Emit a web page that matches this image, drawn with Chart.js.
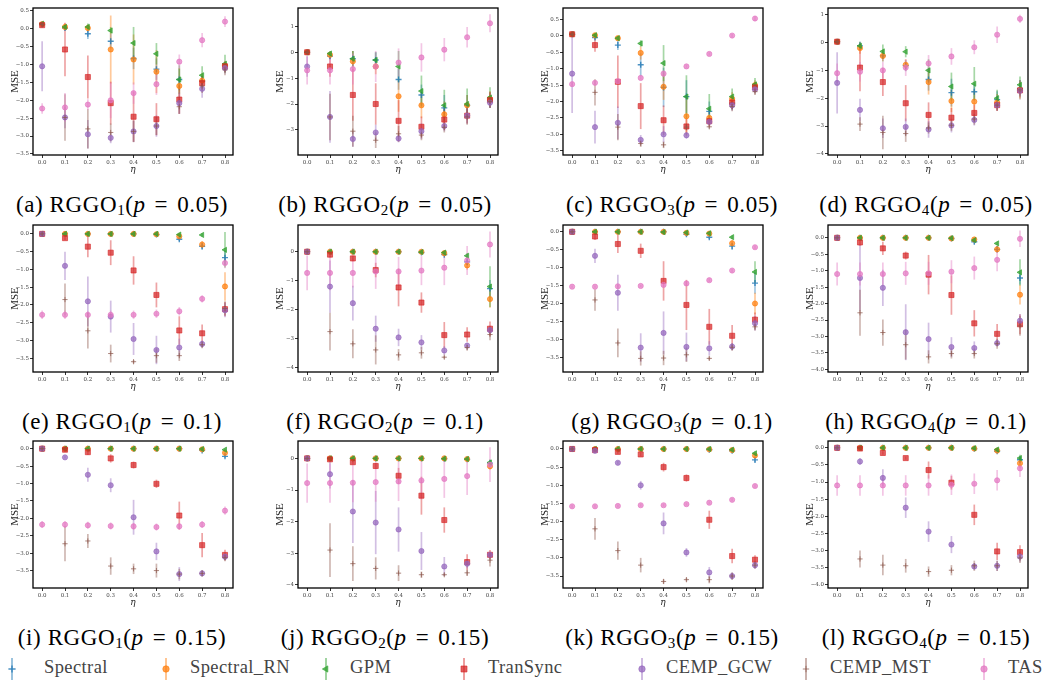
<!DOCTYPE html>
<html>
<head>
<meta charset="utf-8">
<script src="https://cdn.jsdelivr.net/npm/chart.js@4.4.1/dist/chart.umd.min.js"></script>
<style>
  body { margin: 0; background: #fff; width: 1058px; height: 684px; overflow: hidden; position: relative; }
  .panel { position: absolute; width: 265px; height: 175px; }
  .caption { position: absolute; width: 300px; text-align: center; font-family: "Liberation Serif", "DejaVu Serif", serif; font-size: 23px; letter-spacing: 0.6px; color: #000; white-space: nowrap; }
  .caption sub { font-size: 15px; vertical-align: -3px; line-height: 0; }
  .caption .eq { padding: 0 9px; }
  #legend { position: absolute; left: 0; top: 656px; width: 1058px; height: 26px; }
  .glyph { position: absolute; top: 0; }
  .name { position: absolute; top: 1px; font-family: "Liberation Serif", "DejaVu Serif", serif; font-size: 18.5px; letter-spacing: 0.4px; color: #444; white-space: nowrap; }
</style>
</head>
<body>
<div id="legend"></div>
<script>
// eta values on the x axis
var etas = [0.0, 0.1, 0.2, 0.3, 0.4, 0.5, 0.6, 0.7, 0.8];
var methods = ["Spectral", "Spectral_RN", "GPM", "TranSync", "CEMP_GCW", "CEMP_MST", "TAS"];
var colors = ["31,119,180", "255,127,14", "44,160,44", "214,39,40", "148,103,189", "140,86,75", "227,119,194"];

// mean log MSE per method (rows follow `methods`), one block per sub-figure
var mseA = [
  [0.12, 0.02, -0.14, -0.35, -0.83, -1.13, -1.42, -1.47, -1.05],
  [0.13, 0.05, 0.02, -0.58, -0.86, -1.2, -1.6, -1.45, -1.03],
  [0.14, 0.05, 0.05, -0.05, -0.4, -0.7, -1.42, -1.3, -0.98],
  [0.1, -0.58, -1.35, -2.08, -2.46, -2.53, -1.98, -1.52, -1.05],
  [-1.05, -2.48, -2.95, -3.05, -2.87, -2.72, -2.08, -1.68, -1.1],
  [0.12, -2.48, -2.8, -2.9, -2.87, -2.72, -2.18, -1.6, -1.15],
  [-2.23, -2.2, -2.12, -2.0, -1.8, -1.55, -0.92, -0.32, 0.2]
];
var errA = [
  [0.05, 0.05, 0.15, 0.2, 0.3, 0.3, 0.3, 0.15, 0.1],
  [0.05, 0.1, 0.1, 0.95, 0.7, 0.6, 0.5, 0.2, 0.1],
  [0.05, 0.05, 0.1, 0.1, 0.45, 0.3, 0.4, 0.25, 0.25],
  [0.05, 0.75, 0.6, 0.6, 0.7, 0.45, 0.4, 0.2, 0.15],
  [0.7, 0.3, 0.4, 0.15, 0.3, 0.3, 0.3, 0.25, 0.15],
  [0.05, 0.65, 0.55, 0.25, 0.3, 0.25, 0.2, 0.2, 0.15],
  [0.15, 0.4, 0.15, 0.5, 0.3, 0.3, 0.2, 0.2, 0.15]
];
var mseB = [
  [0, -0.15, -0.25, -0.3, -1.05, -1.65, -2.15, -2.05, -1.85],
  [0, -0.1, -0.35, -0.55, -1.7, -2.05, -2.4, -2.05, -1.8],
  [0, -0.05, -0.25, -0.3, -0.55, -1.5, -2.05, -2.0, -1.75],
  [0, -0.55, -1.65, -2.0, -2.65, -2.88, -2.6, -2.45, -1.85],
  [-0.55, -2.5, -3.35, -3.1, -3.33, -3.05, -2.85, -2.45, -1.95],
  [0, -2.5, -3.05, -3.4, -3.15, -3.2, -2.9, -2.5, -1.9],
  [-0.7, -0.7, -0.65, -0.55, -0.4, -0.2, 0.1, 0.58, 1.12]
];
var errB = [
  [0.05, 0.1, 0.3, 0.3, 0.4, 0.4, 0.5, 0.4, 0.3],
  [0.05, 0.1, 0.4, 0.3, 0.6, 0.5, 0.5, 0.4, 0.3],
  [0.05, 0.1, 0.3, 0.3, 0.6, 0.6, 0.6, 0.6, 0.4],
  [0.05, 0.4, 1.0, 0.8, 0.8, 0.4, 0.4, 0.3, 0.3],
  [0.4, 1.0, 0.3, 0.3, 0.15, 0.3, 0.2, 0.3, 0.2],
  [0.05, 0.9, 0.6, 0.3, 0.3, 0.2, 0.2, 0.3, 0.2],
  [0.55, 0.55, 0.6, 0.6, 0.55, 0.55, 0.45, 0.4, 0.35]
];
var mseC = [
  [0.05, -0.05, -0.28, -0.88, -1.57, -1.85, -2.3, -2.05, -1.55],
  [0.05, 0.02, -0.07, -0.52, -1.55, -2.45, -2.5, -1.92, -1.5],
  [0.05, 0.02, -0.07, -0.23, -0.83, -1.85, -2.22, -1.85, -1.48],
  [0.05, -0.28, -1.4, -2.14, -2.57, -2.76, -2.6, -2.03, -1.57],
  [-1.15, -2.78, -2.65, -3.17, -3.0, -3.03, -2.62, -2.12, -1.63],
  [0.05, -1.72, -2.78, -3.28, -3.32, -2.78, -2.77, -2.15, -1.7],
  [-1.47, -1.43, -1.38, -1.28, -1.15, -0.93, -0.55, 0.01, 0.53]
];
var errC = [
  [0.05, 0.05, 0.15, 0.35, 0.6, 0.5, 0.3, 0.2, 0.15],
  [0.05, 0.05, 0.05, 0.2, 0.4, 0.6, 0.2, 0.2, 0.15],
  [0.05, 0.05, 0.05, 0.1, 0.55, 0.65, 0.45, 0.25, 0.2],
  [0.05, 0.2, 0.8, 0.7, 0.45, 0.25, 0.15, 0.2, 0.15],
  [1.2, 0.5, 0.5, 0.15, 0.25, 0.1, 0.1, 0.15, 0.1],
  [0.05, 0.4, 0.4, 0.1, 0.1, 0.1, 0.05, 0.15, 0.1],
  [0.05, 0.05, 0.05, 0.05, 0.1, 0.05, 0.05, 0.05, 0.08]
];
var mseD = [
  [0.03, -0.12, -0.48, -0.83, -1.33, -1.8, -1.77, -2.05, -1.65],
  [0.03, -0.2, -0.48, -0.8, -1.42, -2.1, -2.12, -2.15, -1.7],
  [0.03, -0.12, -0.32, -0.33, -1.0, -1.58, -1.48, -2.0, -1.52],
  [0.03, -0.9, -1.42, -2.18, -2.6, -2.7, -2.53, -2.25, -1.72],
  [-1.45, -2.42, -3.08, -3.03, -3.12, -2.98, -2.78, -2.25, -1.73],
  [0.03, -2.93, -3.23, -3.27, -3.07, -2.97, -2.75, -2.25, -1.7],
  [-1.1, -1.05, -1.0, -0.9, -0.75, -0.5, -0.17, 0.28, 0.85]
];
var errD = [
  [0.05, 0.15, 0.2, 0.2, 0.4, 0.5, 0.3, 0.3, 0.3],
  [0.05, 0.2, 0.2, 0.2, 0.45, 0.4, 0.4, 0.3, 0.3],
  [0.05, 0.15, 0.25, 0.2, 0.4, 0.5, 0.6, 0.3, 0.3],
  [0.05, 0.85, 0.5, 0.65, 0.45, 0.35, 0.3, 0.2, 0.15],
  [1.1, 0.4, 0.35, 0.3, 0.3, 0.25, 0.2, 0.2, 0.2],
  [0.05, 0.25, 0.6, 0.3, 0.2, 0.2, 0.2, 0.2, 0.35],
  [0.35, 0.35, 0.3, 0.3, 0.3, 0.3, 0.25, 0.3, 0.15]
];
var mseE = [
  [0, 0, 0, 0, 0, -0.02, -0.15, -0.35, -0.67],
  [0, 0, 0, 0, 0, -0.01, -0.07, -0.3, -1.48],
  [0, 0, 0, 0, 0, 0, -0.02, -0.03, -0.45],
  [0, -0.12, -0.36, -0.53, -1.03, -1.72, -2.72, -2.8, -2.12],
  [0, -0.9, -1.9, -2.33, -2.96, -3.27, -3.2, -3.1, -2.15],
  [0, -1.85, -2.73, -3.37, -3.6, -3.43, -3.43, -3.12, -2.1],
  [-2.28, -2.28, -2.28, -2.28, -2.28, -2.25, -2.18, -1.83, -0.82]
];
var errE = [
  [0.01, 0.01, 0.01, 0.01, 0.01, 0.02, 0.05, 0.1, 0.2],
  [0.01, 0.01, 0.01, 0.01, 0.01, 0.02, 0.05, 0.1, 0.4],
  [0.01, 0.01, 0.01, 0.01, 0.01, 0.02, 0.05, 0.05, 0.5],
  [0.02, 0.05, 0.3, 0.35, 0.4, 0.35, 0.4, 0.25, 0.2],
  [0.02, 0.4, 0.7, 0.45, 0.45, 0.4, 0.25, 0.1, 0.2],
  [0.02, 0.45, 0.5, 0.25, 0.05, 0.2, 0.15, 0.1, 0.2],
  [0.12, 0.12, 0.1, 0.12, 0.12, 0.12, 0.12, 0.1, 0.15]
];
var mseF = [
  [0, 0, 0, 0, 0, -0.03, -0.1, -0.35, -1.27],
  [0, 0, 0, 0, 0, 0, -0.05, -0.47, -1.63],
  [0, 0, 0, 0, 0, -0.01, -0.03, -0.14, -1.2],
  [0, -0.1, -0.23, -0.63, -1.23, -1.75, -2.87, -2.85, -2.65],
  [0, -1.2, -1.77, -2.65, -2.95, -3.12, -3.4, -3.23, -2.7],
  [0, -2.75, -3.17, -3.38, -3.55, -3.48, -3.63, -3.3, -2.85],
  [-0.73, -0.73, -0.73, -0.68, -0.68, -0.65, -0.55, -0.3, 0.25]
];
var errF = [
  [0.01, 0.01, 0.01, 0.01, 0.01, 0.02, 0.05, 0.1, 0.3],
  [0.01, 0.01, 0.01, 0.01, 0.01, 0.02, 0.05, 0.15, 0.3],
  [0.01, 0.01, 0.01, 0.01, 0.01, 0.02, 0.05, 0.1, 0.7],
  [0.02, 0.1, 0.1, 0.25, 0.65, 0.35, 0.45, 0.25, 0.25],
  [0.02, 0.9, 0.6, 0.45, 0.3, 0.25, 0.15, 0.1, 0.15],
  [0.02, 0.65, 0.5, 0.5, 0.2, 0.2, 0.05, 0.1, 0.2],
  [0.6, 0.6, 0.5, 0.6, 0.5, 0.5, 0.6, 0.5, 0.45]
];
var mseG = [
  [0, 0, 0, 0, 0, -0.07, -0.15, -0.4, -1.43],
  [0, 0, 0, 0, 0, -0.03, -0.05, -0.32, -2.0],
  [0, 0, 0, 0, -0.01, -0.02, -0.04, -0.15, -1.12],
  [0, -0.13, -0.34, -0.53, -1.37, -2.04, -2.65, -2.9, -2.45],
  [0, -0.67, -1.7, -3.23, -2.82, -3.21, -3.25, -3.2, -2.55],
  [0, -1.9, -3.1, -3.53, -3.52, -3.43, -3.53, -3.22, -2.65],
  [-1.53, -1.53, -1.52, -1.51, -1.48, -1.44, -1.35, -1.08, -0.43]
];
var errG = [
  [0.01, 0.01, 0.01, 0.01, 0.01, 0.05, 0.05, 0.1, 0.3],
  [0.01, 0.01, 0.01, 0.01, 0.01, 0.03, 0.05, 0.1, 0.3],
  [0.01, 0.01, 0.01, 0.01, 0.02, 0.03, 0.05, 0.05, 0.3],
  [0.02, 0.1, 0.25, 0.2, 0.55, 0.7, 0.5, 0.3, 0.2],
  [0.02, 0.2, 0.5, 0.4, 0.6, 0.4, 0.2, 0.1, 0.2],
  [0.02, 0.3, 0.4, 0.2, 0.2, 0.2, 0.05, 0.1, 0.1],
  [0.03, 0.03, 0.04, 0.03, 0.04, 0.05, 0.05, 0.05, 0.05]
];
var mseH = [
  [0, 0, 0, 0, 0, -0.02, -0.12, -0.35, -1.22],
  [0, 0, 0, 0, 0, -0.02, -0.05, -0.35, -1.73],
  [0, 0, 0, 0, 0, -0.01, -0.07, -0.17, -1.05],
  [0, -0.14, -0.32, -0.54, -1.12, -1.74, -2.6, -2.92, -2.63],
  [0, -1.22, -1.52, -2.87, -3.08, -3.32, -3.35, -3.2, -2.52],
  [0, -2.28, -2.88, -3.25, -3.62, -3.52, -3.52, -3.22, -2.68],
  [-1.1, -1.1, -1.1, -1.08, -1.08, -1.03, -0.92, -0.67, -0.03]
];
var errH = [
  [0.01, 0.01, 0.01, 0.01, 0.01, 0.02, 0.05, 0.1, 0.2],
  [0.01, 0.01, 0.01, 0.01, 0.01, 0.02, 0.05, 0.1, 0.3],
  [0.01, 0.01, 0.01, 0.01, 0.01, 0.02, 0.05, 0.05, 0.4],
  [0.02, 0.1, 0.2, 0.12, 0.6, 0.6, 0.4, 0.3, 0.3],
  [0.02, 1.0, 0.55, 0.85, 0.5, 0.3, 0.2, 0.1, 0.2],
  [0.02, 0.7, 0.4, 0.45, 0.2, 0.15, 0.15, 0.15, 0.3],
  [0.35, 0.35, 0.35, 0.35, 0.35, 0.35, 0.35, 0.35, 0.25]
];
var mseI = [
  [0, 0, 0, 0, 0, 0, 0, -0.05, -0.22],
  [0, 0, 0, 0, 0, 0, 0, -0.02, -0.12],
  [0, 0, 0, 0, 0, 0, 0, -0.01, -0.03],
  [0, -0.03, -0.1, -0.28, -0.47, -1.01, -1.92, -2.77, -3.05],
  [0, -0.25, -0.75, -1.05, -1.97, -2.95, -3.6, -3.58, -3.1],
  [0, -2.73, -2.65, -3.37, -3.45, -3.5, -3.6, -3.58, -3.13],
  [-2.18, -2.18, -2.2, -2.22, -2.23, -2.25, -2.23, -2.18, -1.78]
];
var errI = [
  [0.01, 0.01, 0.01, 0.01, 0.01, 0.01, 0.01, 0.03, 0.05],
  [0.01, 0.01, 0.01, 0.01, 0.01, 0.01, 0.01, 0.02, 0.05],
  [0.01, 0.01, 0.01, 0.01, 0.01, 0.01, 0.01, 0.02, 0.03],
  [0.02, 0.05, 0.08, 0.12, 0.1, 0.12, 0.4, 0.35, 0.15],
  [0.02, 0.03, 0.2, 0.2, 0.5, 0.25, 0.2, 0.08, 0.1],
  [0.02, 0.5, 0.2, 0.25, 0.15, 0.2, 0.15, 0.1, 0.1],
  [0.1, 0.1, 0.1, 0.1, 0.1, 0.1, 0.1, 0.1, 0.12]
];
var mseJ = [
  [0, 0, 0, 0, 0, 0, -0.01, -0.03, -0.15],
  [0, 0, 0, 0, 0, 0, 0, -0.02, -0.25],
  [0, 0, 0, 0, 0, 0, -0.01, -0.02, -0.13],
  [0, -0.03, -0.12, -0.24, -0.55, -1.18, -1.95, -3.28, -3.05],
  [0, -0.5, -1.68, -2.03, -2.25, -2.93, -3.42, -3.33, -3.05],
  [0, -2.9, -3.33, -3.48, -3.63, -3.68, -3.68, -3.62, -3.22],
  [-0.78, -0.78, -0.77, -0.75, -0.73, -0.7, -0.65, -0.56, -0.2]
];
var errJ = [
  [0.01, 0.01, 0.01, 0.01, 0.01, 0.01, 0.02, 0.03, 0.1],
  [0.01, 0.01, 0.01, 0.01, 0.01, 0.01, 0.02, 0.03, 0.1],
  [0.01, 0.01, 0.01, 0.01, 0.01, 0.01, 0.02, 0.03, 0.1],
  [0.02, 0.05, 0.05, 0.1, 0.25, 0.6, 0.4, 0.25, 0.15],
  [0.02, 0.45, 1.0, 1.0, 0.7, 0.6, 0.3, 0.15, 0.1],
  [0.02, 0.85, 0.55, 0.35, 0.25, 0.1, 0.05, 0.1, 0.2],
  [0.62, 0.62, 0.62, 0.62, 0.62, 0.6, 0.6, 0.6, 0.55]
];
var mseK = [
  [0, 0, 0, 0, 0, 0, -0.02, -0.05, -0.3],
  [0, 0, 0, 0, 0, 0, -0.01, -0.03, -0.18],
  [0, 0, 0, 0, 0, 0, 0, -0.02, -0.12],
  [0, -0.03, -0.08, -0.15, -0.5, -0.8, -1.95, -2.95, -3.05],
  [0, -0.05, -0.38, -1.0, -2.05, -2.85, -3.4, -3.5, -3.2],
  [0, -2.2, -2.8, -3.2, -3.65, -3.6, -3.6, -3.5, -3.2],
  [-1.58, -1.58, -1.57, -1.55, -1.55, -1.52, -1.48, -1.4, -1.02]
];
var errK = [
  [0.01, 0.01, 0.01, 0.01, 0.01, 0.01, 0.02, 0.03, 0.08],
  [0.01, 0.01, 0.01, 0.01, 0.01, 0.01, 0.02, 0.03, 0.06],
  [0.01, 0.01, 0.01, 0.01, 0.01, 0.01, 0.02, 0.03, 0.05],
  [0.02, 0.05, 0.05, 0.05, 0.12, 0.1, 0.25, 0.2, 0.12],
  [0.02, 0.05, 0.05, 0.12, 0.3, 0.12, 0.15, 0.1, 0.1],
  [0.02, 0.3, 0.25, 0.2, 0.06, 0.05, 0.1, 0.1, 0.1],
  [0.04, 0.04, 0.04, 0.04, 0.04, 0.04, 0.04, 0.04, 0.05]
];
var mseL = [
  [0, 0, 0, 0, 0, 0, -0.03, -0.1, -0.35],
  [0, 0, 0, 0, 0, 0, -0.02, -0.08, -0.45],
  [0, 0, 0, 0, 0, 0, -0.01, -0.05, -0.3],
  [0, -0.02, -0.15, -0.3, -0.65, -1.02, -1.96, -3.03, -3.05],
  [0, -0.4, -0.88, -1.75, -2.45, -2.83, -3.47, -3.45, -3.18],
  [0, -3.25, -3.43, -3.45, -3.62, -3.58, -3.45, -3.45, -3.22],
  [-1.1, -1.1, -1.1, -1.1, -1.1, -1.08, -1.05, -0.95, -0.6]
];
var errL = [
  [0.01, 0.01, 0.01, 0.01, 0.01, 0.01, 0.02, 0.05, 0.1],
  [0.01, 0.01, 0.01, 0.01, 0.01, 0.01, 0.02, 0.05, 0.15],
  [0.01, 0.01, 0.01, 0.01, 0.01, 0.01, 0.02, 0.05, 0.1],
  [0.02, 0.03, 0.05, 0.05, 0.25, 0.2, 0.3, 0.25, 0.2],
  [0.02, 0.1, 0.25, 0.3, 0.3, 0.25, 0.1, 0.15, 0.15],
  [0.02, 0.25, 0.3, 0.2, 0.15, 0.15, 0.15, 0.15, 0.15],
  [0.3, 0.3, 0.3, 0.3, 0.3, 0.3, 0.3, 0.3, 0.25]
];

var allMse = [mseA, mseB, mseC, mseD, mseE, mseF, mseG, mseH, mseI, mseJ, mseK, mseL];
var allErr = [errA, errB, errC, errD, errE, errF, errG, errH, errI, errJ, errK, errL];

// y tick labels of each sub-figure
var ticksHalf35 = [0.5, 0.0, -0.5, -1.0, -1.5, -2.0, -2.5, -3.0, -3.5];
var ticksZero35 = [0.0, -0.5, -1.0, -1.5, -2.0, -2.5, -3.0, -3.5];
var ticksZero40 = [0.0, -0.5, -1.0, -1.5, -2.0, -2.5, -3.0, -3.5, -4.0];
var ticksInt13 = [1, 0, -1, -2, -3];
var ticksInt14 = [1, 0, -1, -2, -3, -4];
var ticksInt04 = [0, -1, -2, -3, -4];
var yTicks = [ticksHalf35, ticksInt13, ticksHalf35, ticksInt14,
              ticksZero35, ticksInt04, ticksZero35, ticksZero40,
              ticksZero35, ticksInt04, ticksZero35, ticksZero40];
var yDecimals = [1, 0, 1, 0, 1, 0, 1, 1, 1, 0, 1, 1];
var yRange = [[-3.53, 0.58], [-3.97, 1.71], [-3.63, 0.85], [-4.04, 1.24],
              [-3.89, 0.25], [-4.14, 0.92], [-3.91, 0.19], [-4.08, 0.39],
              [-4.0, 0.22], [-4.1, 0.55], [-3.83, 0.22], [-4.1, 0.2]];

// caption parts
var letters = ["a", "b", "c", "d", "e", "f", "g", "h", "i", "j", "k", "l"];
var graphIdx = [1, 2, 3, 4, 1, 2, 3, 4, 1, 2, 3, 4];
var pValues = ["0.05", "0.05", "0.05", "0.05", "0.1", "0.1", "0.1", "0.1", "0.15", "0.15", "0.15", "0.15"];

// layout
var colLeft = [0, 265, 530, 795];
var rowTop = [0, 217, 433];
var captionMid = [122, 385, 672, 926];
var captionY = [192, 409, 625];
var legendText = [44, 190, 350, 488, 666, 830, 1008];
var legendMark = [12, 166, 326, 464, 642, 806, 984];

var markers = [
  { style: "cross", r: 3, bw: 1.4 },
  { style: "circle", r: 2.6, bw: 0.8 },
  { style: "triangle", r: 3, bw: 0.8, rot: -90 },
  { style: "rect", r: 3.6, bw: 0.8 },
  { style: "circle", r: 2.6, bw: 0.8 },
  { style: "cross", r: 2.6, bw: 0.9 },
  { style: "circle", r: 2.6, bw: 0.8 }
];

function rgba(i, a) {
  return "rgba(" + colors[i] + "," + a + ")";
}

function fmtTick(v, dec) {
  var s = Math.abs(v).toFixed(dec);
  return (v < 0 ? "\u2212" : "") + s;
}

// vertical error bars + axes frame
var errorBarPlugin = {
  id: "errorBars",
  beforeDatasetsDraw: function (chart) {
    var ctx = chart.ctx;
    var yScale = chart.scales.y;
    ctx.save();
    ctx.lineWidth = 1.7;
    chart.data.datasets.forEach(function (ds, di) {
      var meta = chart.getDatasetMeta(di);
      ctx.strokeStyle = rgba(ds.colorIndex, 0.42);
      meta.data.forEach(function (pt, j) {
        var v = ds.data[j].y;
        var e = ds.errors[j];
        ctx.beginPath();
        ctx.moveTo(pt.x, yScale.getPixelForValue(v - e));
        ctx.lineTo(pt.x, yScale.getPixelForValue(v + e));
        ctx.stroke();
      });
    });
    ctx.restore();
  },
  afterDraw: function (chart) {
    var a = chart.chartArea;
    var ctx = chart.ctx;
    ctx.save();
    ctx.strokeStyle = "#000";
    ctx.lineWidth = 1.3;
    ctx.strokeRect(a.left, a.top, a.right - a.left, a.bottom - a.top);
    ctx.restore();
  }
};

var tickFont = { family: "'DejaVu Serif', serif", size: 5.5 };

for (var p = 0; p < 12; p++) {
  var col = p % 4, row = Math.floor(p / 4);
  var holder = document.createElement("div");
  holder.className = "panel";
  holder.style.left = colLeft[col] + "px";
  holder.style.top = rowTop[row] + "px";
  var cv = document.createElement("canvas");
  holder.appendChild(cv);
  document.body.appendChild(holder);

  var cap = document.createElement("div");
  cap.className = "caption";
  cap.style.left = (captionMid[col] - 150) + "px";
  cap.style.top = captionY[row] + "px";
  cap.innerHTML = "(" + letters[p] + ") RGGO<sub>" + graphIdx[p] + "</sub>(<i>p</i><span class=\"eq\">=</span>" + pValues[p] + ")";
  document.body.appendChild(cap);

  var datasets = [];
  for (var m = 0; m < methods.length; m++) {
    var pts = etas.map(function (x, j) { return { x: x, y: allMse[p][m][j] }; });
    datasets.push({
      label: methods[m],
      data: pts,
      errors: allErr[p][m],
      colorIndex: m,
      order: methods.length - m,
      pointStyle: markers[m].style,
      pointRadius: markers[m].r,
      pointRotation: markers[m].rot || 0,
      pointBorderWidth: markers[m].bw,
      backgroundColor: rgba(m, 0.72),
      borderColor: rgba(m, 0.8),
      showLine: false
    });
  }

  (function (pi) {
    new Chart(cv, {
      type: "scatter",
      data: { datasets: datasets },
      plugins: [errorBarPlugin],
      options: {
        responsive: true,
        maintainAspectRatio: false,
        animation: false,
        events: [],
        layout: { padding: { left: 0, right: 32, top: 8, bottom: 0 } },
        plugins: { legend: { display: false }, tooltip: { enabled: false } },
        scales: {
          x: {
            type: "linear",
            min: -0.04,
            max: 0.835,
            afterBuildTicks: function (scale) {
              scale.ticks = etas.map(function (v) { return { value: v }; });
            },
            afterFit: function (scale) { scale.height = 20; },
            grid: { drawOnChartArea: false, drawTicks: true, tickLength: 3, color: "#000", tickWidth: 0.8 },
            border: { display: false },
            ticks: { font: tickFont, color: "#444", padding: 1, maxRotation: 0,
              callback: function (v) { return Number(v).toFixed(1); } },
            title: { display: true, text: "\u03b7", color: "#222", padding: { top: 0, bottom: 0 },
              font: { family: "'DejaVu Serif', serif", size: 9, style: "italic" } }
          },
          y: {
            type: "linear",
            min: yRange[pi][0],
            max: yRange[pi][1],
            afterBuildTicks: function (scale) {
              scale.ticks = yTicks[pi].map(function (v) { return { value: v }; });
            },
            afterFit: function (scale) { scale.width = 33; },
            grid: { drawOnChartArea: false, drawTicks: true, tickLength: 3, color: "#000", tickWidth: 0.8 },
            border: { display: false },
            ticks: { font: tickFont, color: "#444", padding: 1,
              callback: function (v) { return fmtTick(v, yDecimals[pi]); } },
            title: { display: true, text: "MSE", color: "#222", padding: { top: 9, bottom: 0 },
              font: { family: "'Liberation Serif', serif", size: 11 } }
          }
        }
      }
    });
  })(p);
}

// legend row
var legend = document.getElementById("legend");
methods.forEach(function (name, m) {
  var g = document.createElement("canvas");
  g.className = "glyph";
  g.width = 12; g.height = 26;
  g.style.left = (legendMark[m] - 6) + "px";
  var c = g.getContext("2d");
  c.strokeStyle = rgba(m, 0.45);
  c.lineWidth = 2;
  c.beginPath(); c.moveTo(6, 2); c.lineTo(6, 24); c.stroke();
  c.fillStyle = rgba(m, 0.75);
  c.strokeStyle = rgba(m, 0.8);
  c.lineWidth = markers[m].bw;
  Chart.helpers.drawPoint(c, {
    pointStyle: markers[m].style, radius: markers[m].r + 0.6, rotation: markers[m].rot || 0,
    borderWidth: markers[m].bw
  }, 6, 13);
  legend.appendChild(g);
  var t = document.createElement("div");
  t.className = "name";
  t.style.left = legendText[m] + "px";
  t.textContent = name;
  legend.appendChild(t);
});
</script>
</body>
</html>
